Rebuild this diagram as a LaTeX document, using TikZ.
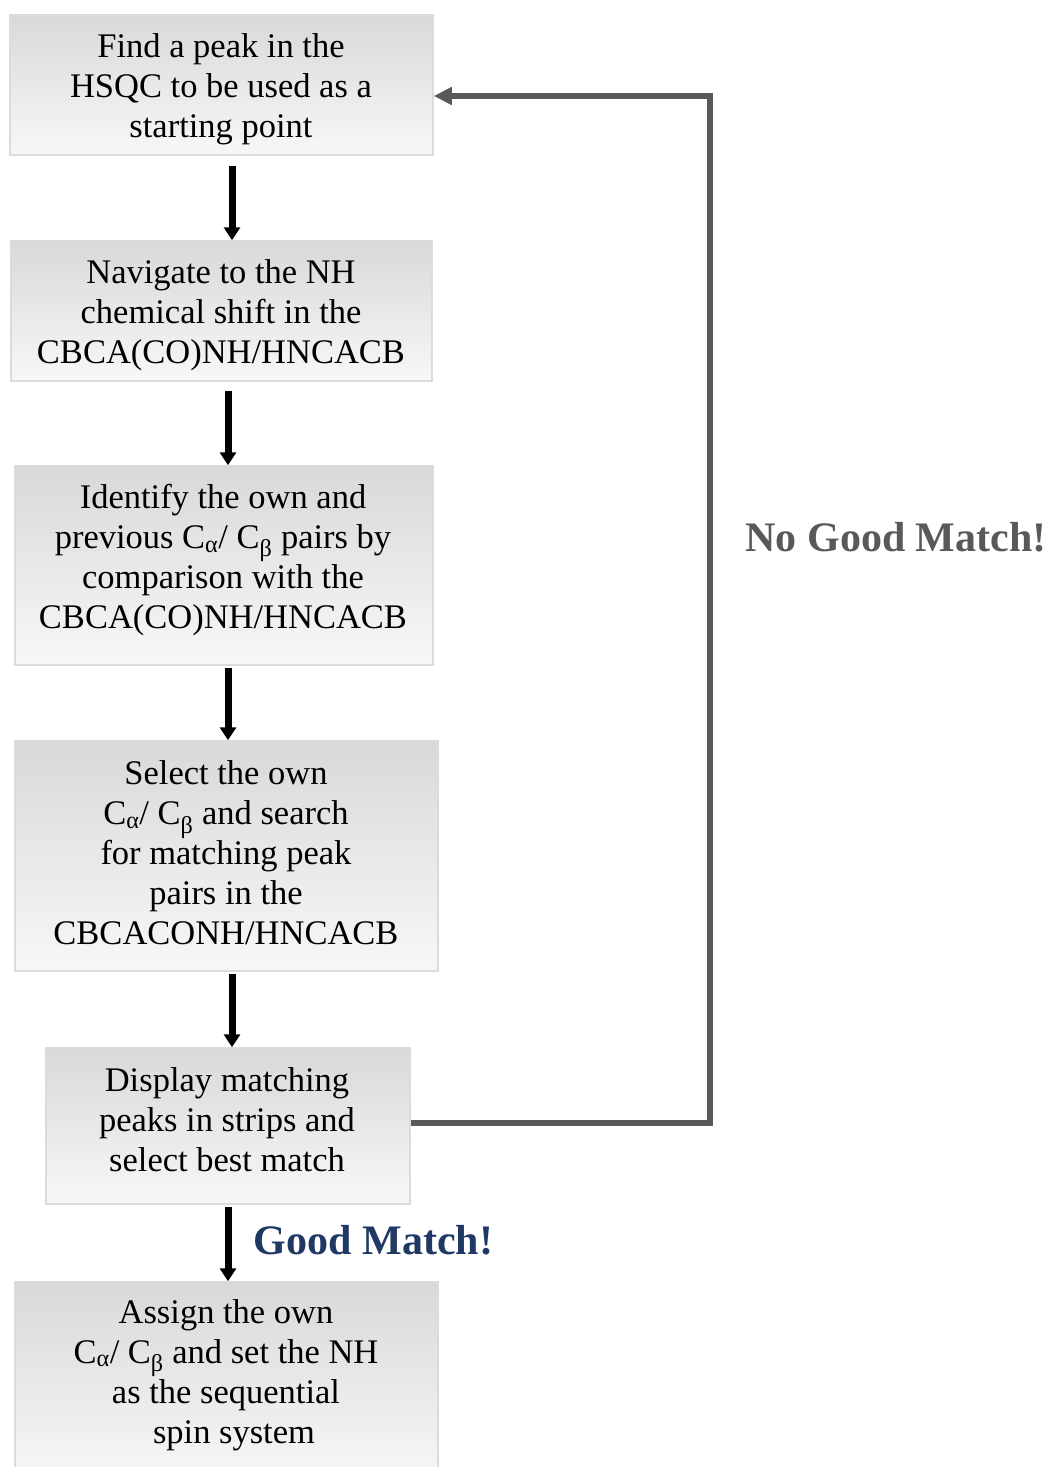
\documentclass[tikz,border=0pt]{standalone}
\usepackage{fontspec}
\setmainfont{Liberation Serif}
\usetikzlibrary{arrows.meta}
\definecolor{fbgray}{HTML}{595959}
\definecolor{navy}{RGB}{31,56,100}
\tikzset{
  box/.style={rectangle, draw=black!14, line width=1.5pt, top color=black!15, bottom color=black!3, inner sep=0pt},
  txt/.style={align=center, inner sep=0pt, font=\fontsize{34.5}{40}\selectfont},
  arr/.style={line width=7pt, draw=black, -{Triangle[width=16pt,length=13pt]}},
  fb/.style={line width=5.5pt, draw=fbgray, line join=miter, -{Triangle[width=17pt,length=18pt]}},
  lbl/.style={inner sep=0pt, font=\fontsize{42}{48}\selectfont\bfseries}
}
\begin{document}
\begin{tikzpicture}[x=1pt,y=-1pt]
\useasboundingbox (0,0) rectangle (1051,1467);
% boxes
\node[box, minimum width=423pt, minimum height=140pt] (b1) at (221.5,85) {};
\node[box, minimum width=421pt, minimum height=140pt] (b2) at (221.5,311) {};
\node[box, minimum width=418pt, minimum height=199pt] (b3) at (224,565.5) {};
\node[box, minimum width=423pt, minimum height=230pt] (b4) at (226.5,856) {};
\node[box, minimum width=364pt, minimum height=156pt] (b5) at (228,1126) {};
\node[box, minimum width=423pt, minimum height=200pt] (b6) at (226.5,1382) {};
% texts
\node[txt] (t1) at (221,89) {Find a peak in the\\HSQC to be used as a\\starting point};
\node[txt] (t2) at (221,315) {Navigate to the NH\\chemical shift in the\\CBCA(CO)NH/HNCACB};
\node[txt] (t3) at (223,560) {Identify the own and\\previous C\textsubscript{α}/ C\textsubscript{β} pairs by\\comparison with the\\CBCA(CO)NH/HNCACB};
\node[txt] (t4) at (226,853) {Select the own\\C\textsubscript{α}/ C\textsubscript{β} and search\\for matching peak\\pairs in the\\CBCACONH/HNCACB};
\node[txt] (t5) at (227,1120) {Display matching\\peaks in strips and\\select best match};
\node[txt] (t6) at (226,1375) {Assign the own\\C\textsubscript{α}/ C\textsubscript{β} and set the NH\\as the sequential\\\hspace*{16pt}spin system};
% arrows
\draw[arr] ([xshift=10.5pt,yshift=-10pt]b1.south) -- ([xshift=10.5pt]b2.north);
\draw[arr] ([xshift=6.5pt,yshift=-9pt]b2.south) -- ([xshift=4pt]b3.north);
\draw[arr] ([xshift=4pt,yshift=-2pt]b3.south) -- ([xshift=1.5pt]b4.north);
\draw[arr] ([xshift=5.5pt,yshift=-2pt]b4.south) -- ([xshift=4pt]b5.north);
\draw[arr] ([yshift=-2pt]b5.south) -- ([xshift=1.5pt]b6.north);
% feedback
\coordinate (c1) at (710,1123);
\draw[fb] ([yshift=3pt]b5.east) -- (c1) |- ([yshift=-11pt]b1.east);
% labels
\node[lbl, text=fbgray] (nogood) at (896,537) {No Good Match!};
\node[lbl, text=navy] (good) at (373.5,1240) {Good Match!};
\end{tikzpicture}
\end{document}
